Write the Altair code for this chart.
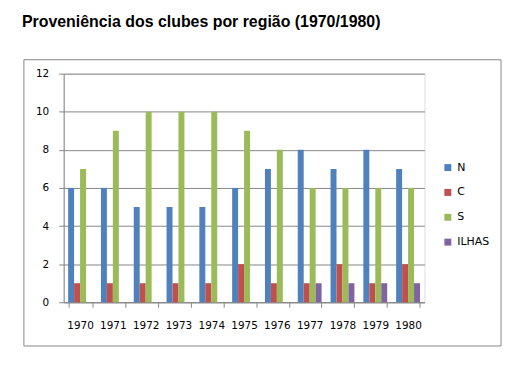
import altair as alt
import pandas as pd

anos = ["1970", "1971", "1972", "1973", "1974", "1975", "1976", "1977", "1978", "1979", "1980"]
series = ["N", "C", "S", "ILHAS"]
N = [6, 6, 5, 5, 5, 6, 7, 8, 7, 8, 7]
C = [1, 1, 1, 1, 1, 2, 1, 1, 2, 1, 2]
S = [7, 9, 10, 10, 10, 9, 8, 6, 6, 6, 6]
ILHAS = [0, 0, 0, 0, 0, 0, 0, 1, 1, 1, 1]
cores = ["#4F81BD", "#C0504D", "#9BBB59", "#8064A2"]

rows = []
for nome, vals in zip(series, [N, C, S, ILHAS]):
    for a, v in zip(anos, vals):
        rows.append({"ano": a, "serie": nome, "valor": v})
df = pd.DataFrame(rows)

font = "DejaVu Sans"

bars = alt.Chart(df).mark_bar(size=6).encode(
    x=alt.X("ano:N", sort=anos, title=None,
            scale=alt.Scale(paddingInner=0.2727, paddingOuter=0.1364),
            axis=alt.Axis(labelAngle=0, labelFont=font, labelFontSize=10.5,
                          labelColor="#000000", domainColor="#868686",
                          tickColor="#868686", tickSize=5, tickBand="extent",
                          labelPadding=13, grid=False)),
    xOffset=alt.XOffset("serie:N", sort=series,
                        scale=alt.Scale(paddingInner=0, paddingOuter=0)),
    y=alt.Y("valor:Q", title=None,
            scale=alt.Scale(domain=[0, 12]),
            axis=alt.Axis(values=[0, 2, 4, 6, 8, 10, 12], labelFont=font,
                          labelFontSize=10.5, labelColor="#000000",
                          domainColor="#868686", tickColor="#868686",
                          tickSize=5, gridColor="#868686", gridOpacity=1,
                          labelPadding=10)),
    color=alt.Color("serie:N", sort=series, title=None,
                    scale=alt.Scale(domain=series, range=cores),
                    legend=alt.Legend(orient="none", legendX=381, legendY=89,
                                      symbolType="square", symbolSize=49,
                                      symbolStrokeWidth=0,
                                      labelFont=font, labelFontSize=11,
                                      labelColor="#000000", rowPadding=13,
                                      labelOffset=4)),
)

border = alt.Chart(pd.DataFrame({"k": [0]})).mark_rect(
    fill=None, stroke="#868686", strokeWidth=1
).encode(x=alt.value(-40), x2=alt.value(440), y=alt.value(-14), y2=alt.value(274))

chart = alt.layer(border, bars).properties(
    width=363, height=230,
    title=alt.Title("Proveniência dos clubes por região (1970/1980)",
                    anchor="start", frame="group", font="Liberation Sans",
                    fontSize=16, fontWeight="bold", color="#000000",
                    dx=-42, offset=29),
    autosize=alt.AutoSizeParams(type="none"),
    padding={"left": 56, "top": 65, "right": 80, "bottom": 50},
).configure_view(stroke=None).configure(background="white")

chart.save("out.html", embed_options={"renderer": "svg", "actions": False})
